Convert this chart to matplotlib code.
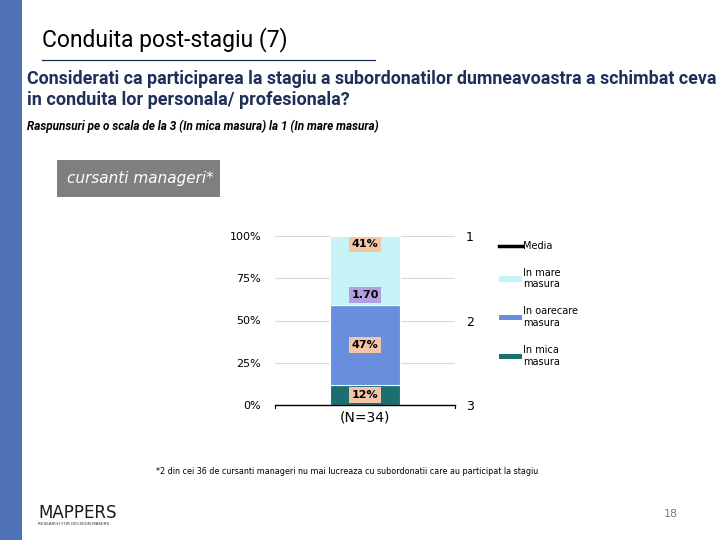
import numpy as np
import matplotlib
matplotlib.use('Agg')
import matplotlib.pyplot as plt
from matplotlib.lines import Line2D
from matplotlib.patches import Patch, Rectangle

# --- data ---
segments = ['In mica\nmasura', 'In oarecare\nmasura', 'In mare\nmasura']
shares = [12, 47, 41]
seg_colors = ['#1b6f6f', '#6a8ede', '#c6f4f6']
mean_score = 1.70
n_label = '(N=34)'
y_ticks = [0, 25, 50, 75, 100]
right_ticks = [1, 2, 3]

NAVY = '#1f2f5a'
W, H = 720, 540

fig = plt.figure(figsize=(7.2, 5.4), dpi=100)
fig.patch.set_facecolor('white')
renderer = fig.canvas.get_renderer()


def fit_text(x, y, s, width_px, size, **kw):
    """place text and shrink it so it spans about width_px pixels"""
    t = fig.text(x / W, 1 - y / H, s, fontsize=size, va='center', ha='left', **kw)
    w = t.get_window_extent(renderer=renderer).width
    t.set_fontsize(size * width_px / w)
    return t


# left stripe
fig.patches.append(Rectangle((0, 0), 22 / W, 1, transform=fig.transFigure,
                             facecolor='#4f72b6', edgecolor='none'))

# titles
fit_text(42, 40, 'Conduita post-stagiu (7)', 246, 15, color='black', family='Roboto')
fig.add_artist(Line2D([42 / W, 375 / W], [1 - 60 / H] * 2, color=NAVY, lw=0.9,
                      transform=fig.transFigure))
fit_text(27, 79, 'Considerati ca participarea la stagiu a subordonatilor dumneavoastra a schimbat ceva',
         684, 12, weight='bold', color=NAVY, family='Roboto')
fit_text(27, 100, 'in conduita lor personala/ profesionala?', 322, 12, weight='bold', color=NAVY,
         family='Roboto')
fit_text(27, 126, 'Raspunsuri pe o scala de la 3 (In mica masura) la 1 (In mare masura)', 355, 7,
         style='italic', weight='bold', color='black', family='Roboto')

# grey box
fig.patches.append(Rectangle((57 / W, 1 - 197 / H), 163 / W, 37 / H, transform=fig.transFigure,
                             facecolor='#7f7f7f', edgecolor='none'))
fig.text(140 / W, 1 - 179 / H, 'cursanti manageri*', fontsize=11, style='italic', color='white',
         va='center', ha='center')

# chart
ax = fig.add_axes([275 / W, 1 - 405 / H, 180 / W, 169 / H])
bottom = 0
for val, col in zip(shares, seg_colors):
    ax.bar(0.5, val, width=0.39, bottom=bottom, color=col, edgecolor='white', linewidth=0.8, zorder=2)
    bottom += val

label_box = dict(boxstyle='square,pad=0.25', facecolor='#f6c4a6', edgecolor='none')
ax.text(0.5, shares[0] / 2, f'{shares[0]}%', ha='center', va='center', fontsize=8, weight='bold',
        bbox=label_box, zorder=4)
ax.text(0.5, shares[0] + shares[1] * 0.5, f'{shares[1]}%', ha='center', va='center', fontsize=8,
        weight='bold', bbox=label_box, zorder=4)
ax.text(0.5, 100 - 5, f'{shares[2]}%', ha='center', va='center', fontsize=8, weight='bold',
        bbox=label_box, zorder=4)
mean_pos = (3 - mean_score) / 2 * 100
ax.text(0.5, mean_pos, f'{mean_score:.2f}', ha='center', va='center', fontsize=8, weight='bold',
        bbox=dict(boxstyle='square,pad=0.25', facecolor='#b29ee2', edgecolor='none'), zorder=4)

ax.set_xlim(0, 1)
ax.set_ylim(0, 100)
ax.set_yticks(y_ticks)
ax.set_yticklabels([f'{t}%' for t in y_ticks], fontsize=8)
ax.yaxis.grid(True, color='#d9d9d9', lw=0.8, zorder=0)
ax.set_axisbelow(True)
ax.tick_params(axis='y', length=0, pad=10)
ax.set_xticks([0.5])
ax.set_xticklabels([n_label], fontsize=10)
ax.tick_params(axis='x', length=0, pad=4)
for s in ['left', 'right', 'top']:
    ax.spines[s].set_visible(False)
ax.spines['bottom'].set_linewidth(1.0)
ax.plot([0, 0], [0, -2], color='black', lw=0.8, clip_on=False)
ax.plot([1, 1], [0, -2], color='black', lw=0.8, clip_on=False)

ax2 = ax.twinx()
ax2.set_ylim(3, 1)
ax2.set_yticks(right_ticks)
ax2.set_yticklabels([str(t) for t in right_ticks], fontsize=9)
ax2.tick_params(axis='y', length=0, pad=8)
for s in ax2.spines.values():
    s.set_visible(False)

handles = [Line2D([0], [0], color='black', lw=2.5)] + \
          [Patch(facecolor=c) for c in seg_colors[::-1]]
labels = ['Media'] + segments[::-1]
fig.legend(handles, labels, loc='upper left', bbox_to_anchor=(490 / W, 1 - 232 / H),
           frameon=False, fontsize=7, handlelength=2.4, handleheight=0.5, labelspacing=1.75,
           handletextpad=0.1)

# footnote and footer
fig.text(347 / W, 1 - 472 / H, '*2 din cei 36 de cursanti manageri nu mai lucreaza cu subordonatii care au participat la stagiu',
         fontsize=5.8, ha='center', va='center')
fig.text(671 / W, 1 - 514 / H, '18', fontsize=8, color='#7f7f7f', ha='center', va='center')
fig.text(38 / W, 1 - 513 / H, 'MAPPERS', fontsize=12, color='#1a1a1a', ha='left', va='center')
fig.text(38 / W, 1 - 524 / H, 'RESEARCH FOR DECISION MAKERS', fontsize=3, color='#333333',
         ha='left', va='center')

fig.savefig('out.png', dpi=100)
